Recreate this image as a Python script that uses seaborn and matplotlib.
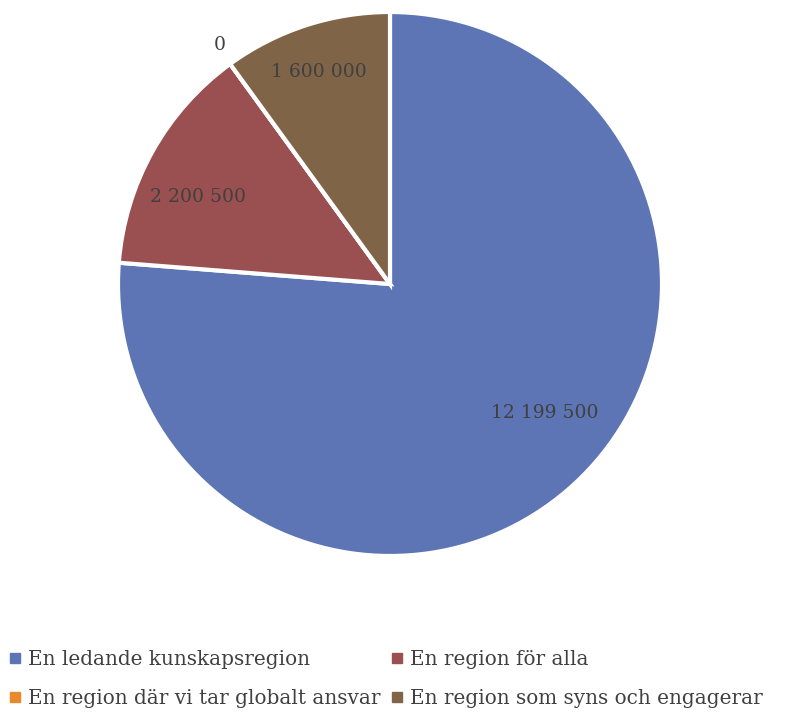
import matplotlib
matplotlib.use("Agg")
import matplotlib.pyplot as plt
import seaborn as sns
import numpy as np
from matplotlib.lines import Line2D

sns.set_theme(style="white")
plt.rcParams['font.family'] = ['DejaVu Serif']

categories = ["En ledande kunskapsregion", "En region för alla",
              "En region där vi tar globalt ansvar", "En region som syns och engagerar"]
values = [12199500, 2200500, 0, 1600000]
value_labels = ["12 199 500", "2 200 500", "0", "1 600 000"]
colors = ["#5D75B5", "#9A4F51", "#E88A2C", "#7F6448"]
# label placement (style): radius fraction and angular nudge in degrees
label_radius = [0.74, 0.775, 1.08, 0.82]
label_nudge = [7.4, 4.9, -0.6, 0.5]

fig = plt.figure(figsize=(7.9, 7.15), dpi=100)
W, H = 790, 715
cx, cy, R = 390, 284, 272
ax = fig.add_axes([(cx - R) / W, (H - cy - R) / H, 2 * R / W, 2 * R / H])

wedges, _ = ax.pie(values, colors=colors, startangle=90, counterclock=False,
                   radius=1, wedgeprops=dict(edgecolor="white", linewidth=3))
ax.set_xlim(-1, 1)
ax.set_ylim(-1, 1)
ax.set_aspect("equal")
ax.axis("off")

total = sum(values)
cum = 0
for v, lab, r, nd in zip(values, value_labels, label_radius, label_nudge):
    mid = cum + v / 2
    ang = np.deg2rad(90 - 360 * mid / total + nd)
    ax.text(r * np.cos(ang), r * np.sin(ang), lab, ha="center", va="center",
            fontsize=13.5, color="#404040")
    cum += v

handles = [Line2D([0], [0], marker="s", linestyle="", markersize=7,
                  markerfacecolor=c, markeredgecolor=c) for c in colors]
order = [0, 2, 1, 3]
fig.legend([handles[i] for i in order], [categories[i] for i in order],
           loc="lower left", bbox_to_anchor=(-0.011, -0.016),
           ncol=2, frameon=False, fontsize=14.4, handlelength=0.6, handletextpad=0.35,
           columnspacing=0.5, labelspacing=1.0, labelcolor="#404040")

fig.savefig("out.png", dpi=100, facecolor="white")
